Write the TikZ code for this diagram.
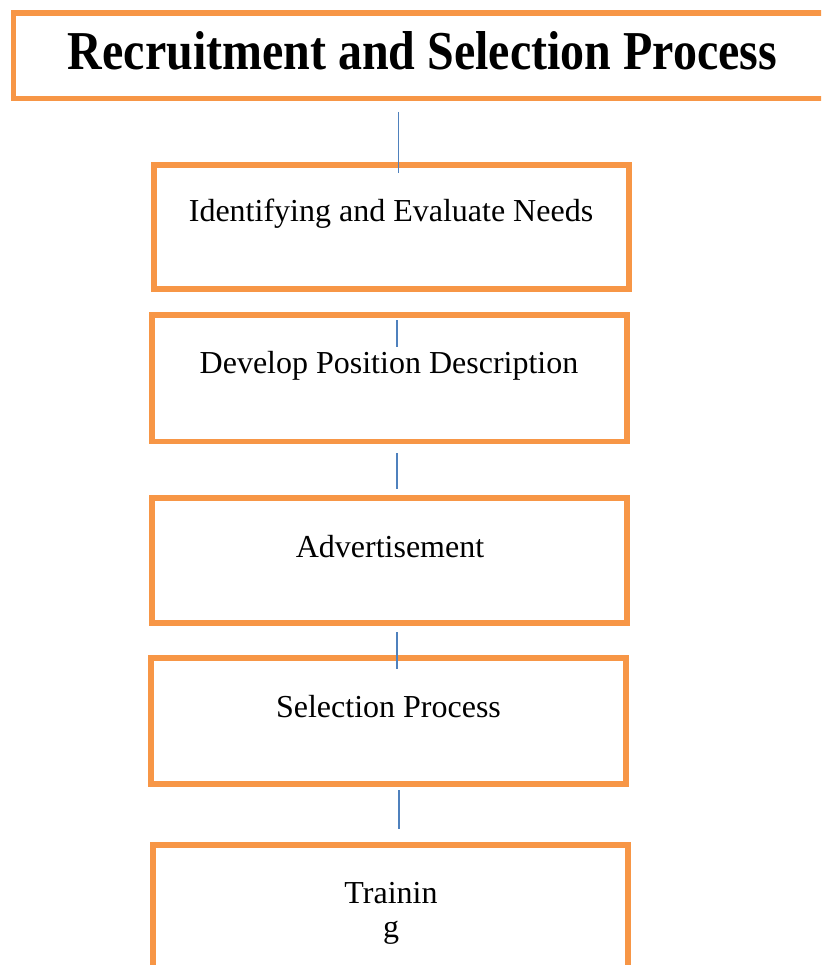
\documentclass[tikz,border=0pt]{standalone}
\usepackage{fontspec}
\setmainfont{Liberation Serif}
\usepackage{graphicx}
\definecolor{boxorange}{HTML}{F79646}
\definecolor{linkblue}{HTML}{4F81BD}
\begin{document}
\begin{tikzpicture}[x=1pt,y=-1pt,
  stepbox/.style={draw=boxorange, line width=5.5pt, rectangle, inner sep=0pt, fill=none},
  steptext/.style={anchor=base, inner sep=0pt, font=\fontsize{32}{38}\selectfont},
  link/.style={draw=linkblue, line width=1.8pt}]
\clip (0,0) rectangle (821,965);
\fill[white] (0,0) rectangle (821,965);
% boxes
\node[stepbox, minimum width=826.5pt, minimum height=85.5pt] (title) at (426.75,55.75) {};
\node[stepbox, minimum width=475pt, minimum height=124pt] (b1) at (391.5,227) {};
\node[stepbox, minimum width=475pt, minimum height=126.5pt] (b2) at (389.5,378.25) {};
\node[stepbox, minimum width=475pt, minimum height=125pt] (b3) at (389.5,560.5) {};
\node[stepbox, minimum width=475pt, minimum height=126pt] (b4) at (388.5,721) {};
\node[stepbox, minimum width=475pt, minimum height=145pt] (b5) at (390.5,917.5) {};
% texts
\node[anchor=base, inner sep=0pt] (ttitle) at (422.5,70) {\resizebox{709pt}{38pt}{\bfseries Recruitment and Selection Process}};
\node[steptext] (t1) at (391,222) {Identifying and Evaluate Needs};
\node[steptext] (t2) at (389,373) {Develop Position Description};
\node[steptext] (t3) at (390,557) {Advertisement};
\node[steptext] (t4) at (388.5,717) {Selection Process};
\node[steptext] (t5a) at (391,903) {Trainin};
\node[steptext] (t5b) at (391,937) {g};
% connectors
\coordinate (c1s) at (398.5,112);
\coordinate (c1e) at (398.5,173);
\coordinate (c2s) at (397,320);
\coordinate (c2e) at (397,347);
\coordinate (c3s) at (397,453);
\coordinate (c3e) at (397,489);
\coordinate (c4s) at (397,632);
\coordinate (c4e) at (397,669);
\coordinate (c5s) at (398.7,790);
\coordinate (c5e) at (398.7,829);
\draw[link] (c1s) -- (c1e);
\draw[link] (c2s) -- (c2e);
\draw[link] (c3s) -- (c3e);
\draw[link] (c4s) -- (c4e);
\draw[link] (c5s) -- (c5e);
\end{tikzpicture}
\end{document}
